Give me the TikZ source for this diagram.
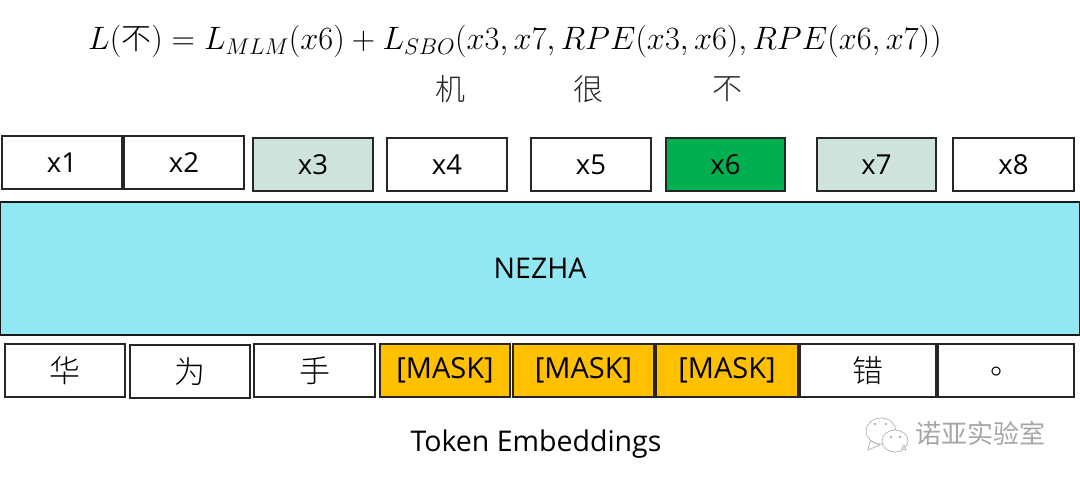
\documentclass[tikz,border=0pt]{standalone}
\usepackage{fix-cm}
\usepackage[no-math]{fontspec}
\setmainfont{Open Sans}
\newfontfamily\cjk{Noto Sans CJK SC}
\newfontfamily\cjkthin{Noto Sans CJK SC Light}
\definecolor{palegreen}{HTML}{CEE3DC}
\definecolor{stronggreen}{HTML}{00B050}
\definecolor{nezhablue}{HTML}{92E8F2}
\definecolor{maskgold}{HTML}{FFC000}
\begin{document}
\begin{tikzpicture}[x=1pt,y=-1pt,
  cell/.style={draw=black!85,line width=1.2pt,fill=white,inner sep=0pt,minimum height=53pt,font=\fontsize{27.5}{30}\selectfont,text=black},
  zh/.style={inner sep=0pt,text=black!85,font=\cjkthin\fontsize{30}{34}\selectfont},
  mark glyph/.style={font=\cjkthin\fontsize{31}{34}\selectfont},
  caption/.style={inner sep=0pt,font=\fontsize{28.5}{32}\selectfont,text=black}]
\useasboundingbox (0,0) rectangle (1080,481);
\fill[white] (0,0) rectangle (1080,481);
% formula
\node[inner sep=0pt,anchor=base west] (formula) at (88,49.5) {\fontsize{32.4}{38}\selectfont $L(\mbox{\cjkthin\fontsize{30}{34}\selectfont 不})=L_{MLM}(x6)+L_{SBO}(x3,x7,RPE(x3,x6),RPE(x6,x7))$};
\node[zh] (ji) at (450,89) {机};
\node[zh] (hen) at (588,89) {很};
\node[zh] (bu) at (727,89) {不};
% output row
\node[cell,minimum width=120pt] (x1) at (62,162.5) {x1};
\node[cell,minimum width=120pt] (x2) at (184,162.5) {x2};
\node[cell,minimum width=120pt,fill=palegreen] (x3) at (313,164.5) {x3};
\node[cell,minimum width=120pt] (x4) at (447,164.5) {x4};
\node[cell,minimum width=120pt] (x5) at (591,164.5) {x5};
\node[cell,minimum width=119pt,fill=stronggreen] (x6) at (725.5,164.5) {x6};
\node[cell,minimum width=119pt,fill=palegreen] (x7) at (876.5,164.5) {x7};
\node[cell,minimum width=121pt] (x8) at (1013.5,164.5) {x8};
% encoder
\node[draw=black!90,line width=1.4pt,fill=nezhablue,inner sep=0pt,minimum width=1079pt,minimum height=133pt,font=\fontsize{28.5}{32}\selectfont] (nezha) at (540,268.5) {NEZHA};
% input row
\node[cell,minimum width=120pt,mark glyph] (t1) at (65,370.5) {华};
\node[cell,minimum width=120pt,mark glyph] (t2) at (190,371.5) {为};
\node[cell,minimum width=121pt,mark glyph] (t3) at (314.5,370.5) {手};
\node[cell,minimum width=130pt,fill=maskgold,font=\fontsize{29}{32}\selectfont] (t4) at (445,370.5) {[MASK]};
\node[cell,minimum width=141pt,fill=maskgold,font=\fontsize{29}{32}\selectfont] (t5) at (583.5,370.5) {[MASK]};
\node[cell,minimum width=142pt,fill=maskgold,font=\fontsize{29}{32}\selectfont] (t6) at (727,370.5) {[MASK]};
\node[cell,minimum width=136pt,mark glyph] (t7) at (868,370.5) {错};
\node[cell,minimum width=136pt,mark glyph] (t8) at (1006,370.5) {\raisebox{-9pt}{。}};
\node[caption] (cap) at (536,444) {Token Embeddings};
% watermark
\begin{scope}[draw=black!30,fill=white,line width=0.7pt]
  \filldraw (881,431) ellipse (15 and 13);
  \filldraw (870,441) -- (868,450) -- (880,445) -- cycle;
  \filldraw (895,441) ellipse (13 and 11);
  \filldraw (902,449) -- (906,450) -- (904,445) -- cycle;
  \fill[black!40] (875,424) circle (1.2) (886,424) circle (1.2) (891,437) circle (1.2) (900,437) circle (1.2);
\end{scope}
\node[inner sep=0pt,text=black!35,font=\cjk\fontsize{26}{30}\selectfont] (mark) at (980,433) {诺亚实验室};
\end{tikzpicture}
\end{document}
